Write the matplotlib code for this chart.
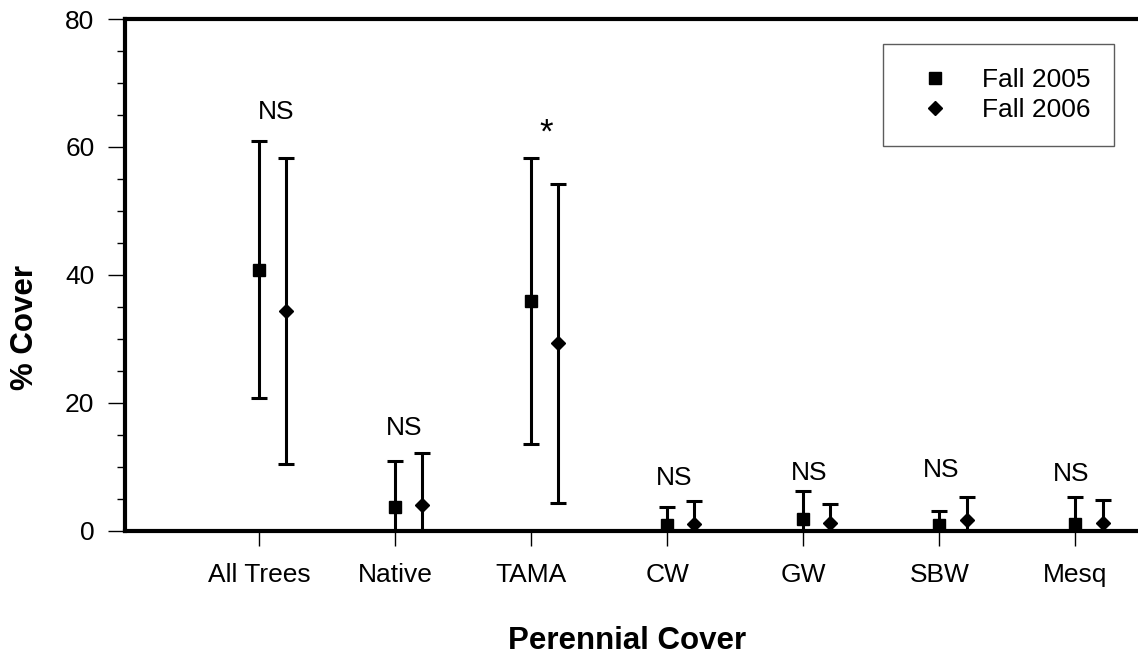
import matplotlib.pyplot as plt
import numpy as np
from matplotlib.lines import Line2D
from matplotlib.ticker import MultipleLocator

plt.rcParams['font.family'] = ['Liberation Sans', 'DejaVu Sans']

# perennial cover by group, two sampling dates
groups = ['All Trees', 'Native', 'TAMA', 'CW', 'GW', 'SBW', 'Mesq']
cover_2005 = [40.8, 3.65, 35.9, 0.9, 1.8, 0.9, 1.05]
err_2005 = [20.1, 7.2, 22.35, 2.75, 4.35, 2.2, 4.15]
cover_2006 = [34.3, 4.0, 29.3, 1.1, 1.2, 1.7, 1.2]
err_2006 = [23.9, 8.1, 24.9, 3.5, 3.0, 3.5, 3.6]

# significance marks above each group
sig_text = ['NS', 'NS', '*', 'NS', 'NS', 'NS', 'NS']
sig_y = [64.3, 14.9, 60.7, 7.15, 8.0, 8.35, 7.8]
sig_dx = [0.125, 0.07, 0.11, 0.05, 0.04, 0.01, -0.035]

x = np.arange(len(groups))

fig = plt.figure(figsize=(11.38, 6.56), dpi=100)
ax = fig.add_axes([0.1098, 0.191, 0.8902, 0.780])

eb = dict(ls='none', color='black', ecolor='black', elinewidth=2.2,
          capsize=6, capthick=2.2)
ax.errorbar(x, cover_2005, yerr=err_2005, marker='s', ms=8.6, **eb)
ax.errorbar(x + 0.2, cover_2006, yerr=err_2006, marker='D', ms=7.6, **eb)

for i, (t, y) in enumerate(zip(sig_text, sig_y)):
    fs = 25 if t == '*' else 19
    ax.text(x[i] + sig_dx[i], y, t, ha='center', va='baseline', fontsize=fs)

ax.set_xlim(-0.985, 6.46)
ax.set_ylim(0, 80)
ax.set_xticks(x)
ax.set_xticklabels(groups)
ax.yaxis.set_major_locator(MultipleLocator(20))
ax.yaxis.set_minor_locator(MultipleLocator(5))

ax.tick_params(axis='y', which='major', direction='out', length=12,
               width=1.0, labelsize=19, pad=10)
ax.tick_params(axis='y', which='minor', direction='out', length=6, width=1.0)
ax.tick_params(axis='x', which='major', direction='out', length=11,
               width=1.0, labelsize=19, pad=12)

for side in ['left', 'top', 'bottom']:
    ax.spines[side].set_linewidth(3)
ax.spines['right'].set_visible(False)

ax.set_ylabel('% Cover', fontsize=22.5, fontweight='bold')
ax.yaxis.set_label_coords(25 / 1138, 0.5, transform=fig.transFigure)
ax.set_xlabel('Perennial Cover', fontsize=22.5, fontweight='bold')
ax.xaxis.set_label_coords(0.551, 1 - 641 / 656, transform=fig.transFigure)
ax.xaxis.label.set_va('center')
ax.yaxis.label.set_va('center')

# legend shows markers only, no error bars
handles = [Line2D([], [], ls='none', marker='s', ms=8.6, color='black'),
           Line2D([], [], ls='none', marker='D', ms=7.6, color='black')]
leg = ax.legend(handles, ['Fall 2005', 'Fall 2006'], loc='upper right',
                bbox_to_anchor=(1114 / 1138, 1 - 44 / 656),
                bbox_transform=fig.transFigure, borderaxespad=0, fontsize=19,
                fancybox=False, frameon=True, borderpad=0.9, handlelength=2.1,
                handletextpad=0.73, labelspacing=0.25)
leg.get_frame().set_edgecolor('#333333')
leg.get_frame().set_linewidth(1.0)

fig.savefig('out.png', dpi=100)
